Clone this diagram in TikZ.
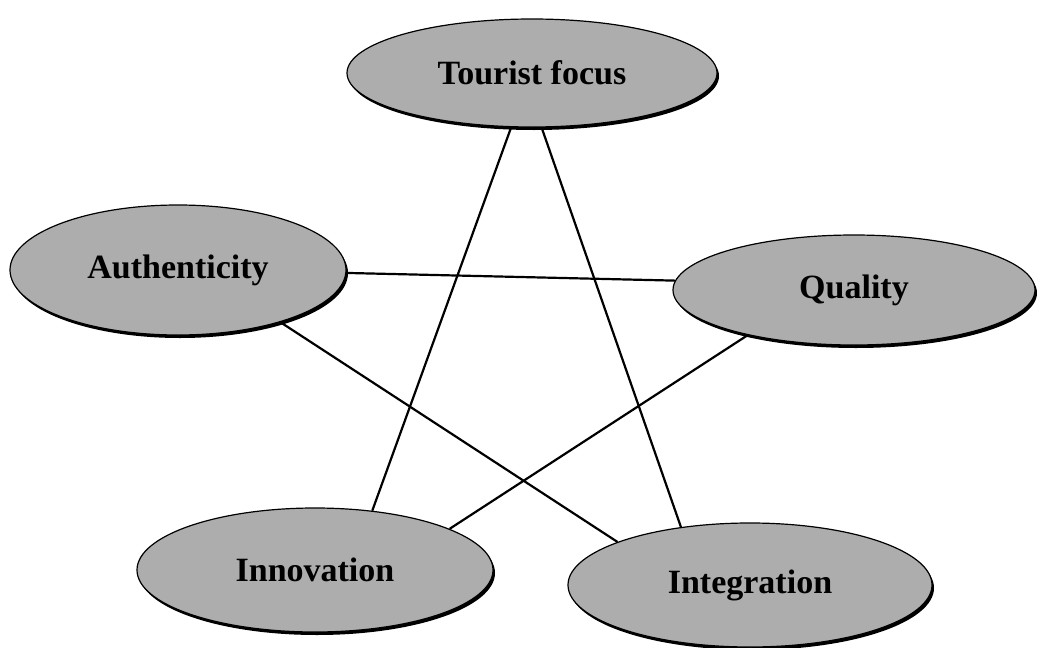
\documentclass[tikz,border=0pt]{standalone}
\usepackage{fontspec}
\setmainfont{Liberation Serif}
\usetikzlibrary{shapes.geometric}
\definecolor{ovalgray}{HTML}{ADADAD}
\begin{document}
\begin{tikzpicture}[x=1pt,y=-1pt,
  oval/.style={ellipse, draw=black, line width=1.2pt, fill=ovalgray, inner sep=0pt,
    font=\fontsize{34}{36}\selectfont\bfseries,
    preaction={fill=black, transform canvas={shift={(2pt,-3pt)}}}},
  link/.style={draw=black, line width=2.2pt}]
  \useasboundingbox[fill=white] (0,0) rectangle (1037,648);

  % the five ovals
  \node[oval, minimum width=370pt, minimum height=108pt] (tf)  at (532,73)  {Tourist focus};
  \node[oval, minimum width=336pt, minimum height=130pt] (au)  at (178,270) {Authenticity};
  \node[oval, minimum width=362pt, minimum height=110pt] (qu)  at (854,290) {Quality};
  \node[oval, minimum width=356pt, minimum height=124pt] (inn) at (315,570) {Innovation};
  \node[oval, minimum width=364pt, minimum height=124pt] (ig)  at (750,585) {Integration};

  % star of connecting lines
  \draw[link] (tf.249.7) -- (inn.46.5);
  \draw[link] (tf.280.5) -- (ig.140.4);
  \draw[link] (au.359.3) -- (qu.177);
  \draw[link] (au.333.7) -- (ig.162);
  \draw[link] (qu.203.8) -- (inn.17.4);
\end{tikzpicture}
\end{document}
